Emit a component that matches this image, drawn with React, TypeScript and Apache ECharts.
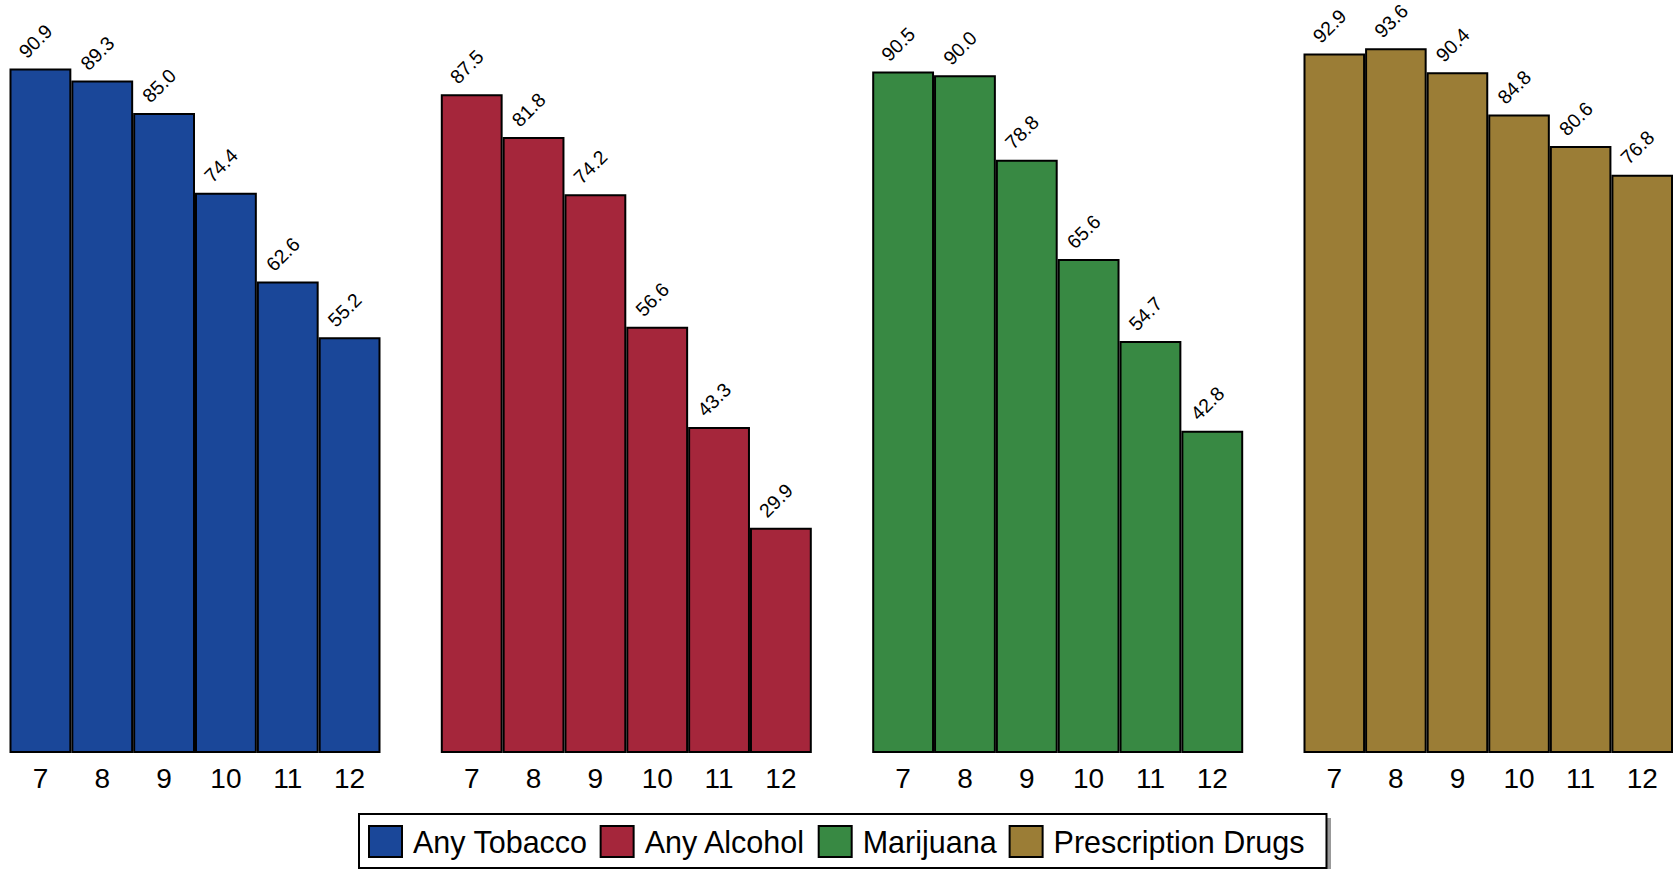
import React, { useEffect, useRef } from "react";
import * as echarts from "echarts";

const grades = ["7", "8", "9", "10", "11", "12"];
const seriesNames = ["Any Tobacco", "Any Alcohol", "Marijuana", "Prescription Drugs"];
const tobacco = [90.9, 89.3, 85.0, 74.4, 62.6, 55.2];
const alcohol = [87.5, 81.8, 74.2, 56.6, 43.3, 29.9];
const marijuana = [90.5, 90.0, 78.8, 65.6, 54.7, 42.8];
const prescription = [92.9, 93.6, 90.4, 84.8, 80.6, 76.8];
const colors = ["#1a4799", "#a5263b", "#388943", "#9b7d36"];

const FONT = "'Liberation Sans', Arial, Helvetica, sans-serif";

export default function App() {
  const ref = useRef<HTMLDivElement>(null);
  useEffect(() => {
    if (!ref.current) return;
    const chart = echarts.init(ref.current, undefined, { renderer: "svg" });
    const values = [tobacco, alcohol, marijuana, prescription];
    const lefts = [9.5, 440.8, 872.2, 1303.5];
    const grid = lefts.map((l) => ({ left: l, width: 371, top: -5, height: 758, containLabel: false }));
    const xAxis = lefts.map((_, i) => ({
      type: "category",
      gridIndex: i,
      data: grades,
      axisLine: { show: false },
      axisTick: { show: false },
      axisLabel: { fontSize: 28, color: "#000", fontFamily: FONT, margin: 11 },
    }));
    const yAxis = lefts.map((_, i) => ({
      type: "value",
      gridIndex: i,
      min: 0,
      max: 100,
      show: false,
      splitLine: { show: false },
    }));
    const series = values.map((v, i) => ({
      type: "bar",
      name: seriesNames[i],
      xAxisIndex: i,
      yAxisIndex: i,
      data: v,
      barCategoryGap: "0%",
      itemStyle: { color: colors[i], borderColor: "#000", borderWidth: 2 },
      label: {
        show: true,
        position: [19.5, -7],
        rotate: 45,
        align: "left",
        verticalAlign: "bottom",
        fontSize: 19.5,
        color: "#000",
        fontFamily: FONT,
        formatter: (p: any) => Number(p.value).toFixed(1),
      },
    }));
    chart.setOption({
      animation: false,
      backgroundColor: "#fff",
      grid,
      xAxis,
      yAxis,
      series,
      legend: {
        data: seriesNames,
        left: 359,
        top: 814,
        orient: "horizontal",
        itemWidth: 33,
        itemHeight: 31,
        itemGap: 12,
        padding: [11, 22, 10, 9],
        backgroundColor: "#fff",
        borderColor: "#000",
        borderWidth: 2,
        icon: "rect",
        selectedMode: false,
        textStyle: { fontSize: 30.5, color: "#000", fontFamily: FONT, padding: [0, 0, 0, 6] },
      },
      graphic: [
        {
          type: "rect",
          z: 0,
          shape: { x: 363, y: 818, width: 968, height: 53 },
          style: { fill: "#999" },
        },
      ],
    });
    return () => chart.dispose();
  }, []);
  return (
    <div
      ref={ref}
      style={{ position: "fixed", left: 0, top: 0, width: 1673, height: 869, background: "#fff" }}
    />
  );
}
